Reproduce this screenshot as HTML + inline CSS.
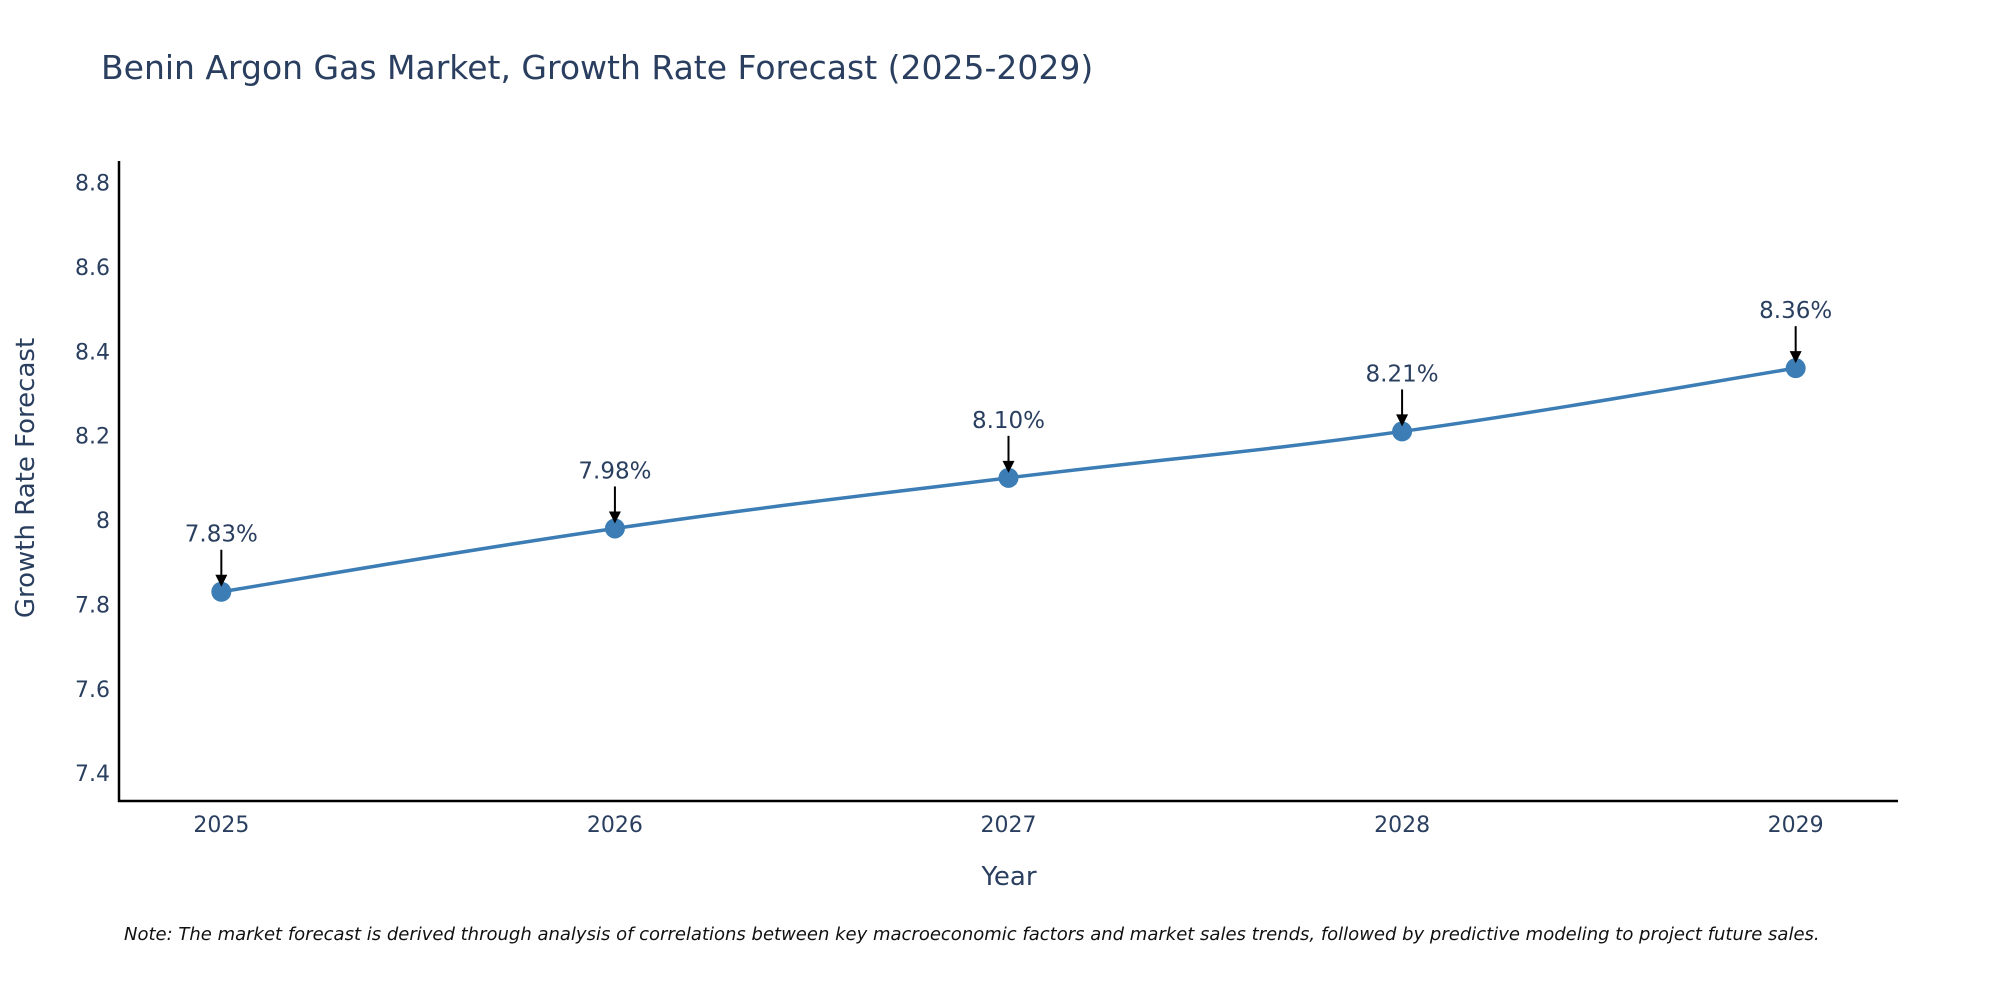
<!DOCTYPE html>
<html><head><meta charset="utf-8"><style>
body{margin:0;background:#fff;}
svg text{font-family:"DejaVu Sans","Liberation Sans",sans-serif;fill:#2a3f5f;}
</style></head><body>
<svg id="chart" width="2000" height="1000" xmlns="http://www.w3.org/2000/svg">
<text x="101" y="79" font-size="33">Benin Argon Gas Market, Growth Rate Forecast (2025-2029)</text>
<g id="yticks"></g>
<g id="xticks"></g>
<line x1="119" y1="161" x2="119" y2="802" stroke="#000" stroke-width="2.5"/>
<line x1="118" y1="801" x2="1898" y2="801" stroke="#000" stroke-width="2.5"/>
<path id="series-line" fill="none" stroke="#3b7db4" stroke-width="3.5"/>
<g id="points"></g>
<g id="annos"></g>
<text transform="translate(34,478) rotate(-90)" text-anchor="middle" font-size="26">Growth Rate Forecast</text>
<text x="1009" y="885" text-anchor="middle" font-size="26">Year</text>
<text x="124" y="940" font-size="18" font-style="italic" style="fill:#111">Note: The market forecast is derived through analysis of correlations between key macroeconomic factors and market sales trends, followed by predictive modeling to project future sales.</text>
</svg>
<script>
const years = [2025, 2026, 2027, 2028, 2029];
const values = [7.83, 7.98, 8.10, 8.21, 8.36];
const labels = ["7.83%", "7.98%", "8.10%", "8.21%", "8.36%"];
const yTickVals = [7.4, 7.6, 7.8, 8, 8.2, 8.4, 8.6, 8.8];
const yTickLabels = ["7.4", "7.6", "7.8", "8", "8.2", "8.4", "8.6", "8.8"];
const NS = "http://www.w3.org/2000/svg";
const xMin = 2024.74, xMax = 2029.26;
const yMin = 7.334, yMax = 8.851;
function xs(v){ return 119 + (v - xMin) / (xMax - xMin) * (1898 - 119); }
function ys(v){ return 801 - (v - yMin) / (yMax - yMin) * (801 - 161); }
function mk(tag, attrs, parent){ const e = document.createElementNS(NS, tag); for (const k in attrs) e.setAttribute(k, attrs[k]); parent.appendChild(e); return e; }
const yt = document.getElementById('yticks');
yTickVals.forEach((v, i) => {
  const t = mk('text', {x: 110, y: ys(v) + 8, 'text-anchor': 'end', 'font-size': 22}, yt);
  
  
  t.textContent = yTickLabels[i];
});
const xt = document.getElementById('xticks');
years.forEach(y => {
  const t = mk('text', {x: xs(y), y: 832, 'text-anchor': 'middle', 'font-size': 22}, xt);
  
  
  t.textContent = y;
});
const pts = years.map((y, i) => [xs(y), ys(values[i])]);
let d = 'M' + pts[0][0] + ',' + pts[0][1];
for (let i = 0; i < pts.length - 1; i++) {
  const p0 = pts[Math.max(0, i - 1)], p1 = pts[i], p2 = pts[i + 1], p3 = pts[Math.min(pts.length - 1, i + 2)];
  const s = 0.2;
  d += ' C' + (p1[0] + (p2[0] - p0[0]) * s) + ',' + (p1[1] + (p2[1] - p0[1]) * s) + ' ' + (p2[0] - (p3[0] - p1[0]) * s) + ',' + (p2[1] - (p3[1] - p1[1]) * s) + ' ' + p2[0] + ',' + p2[1];
}
document.getElementById('series-line').setAttribute('d', d);
const pg = document.getElementById('points');
const ag = document.getElementById('annos');
pts.forEach((p, i) => {
  const c = mk('circle', {cx: p[0], cy: p[1], r: 10, fill: '#3b7db4'}, pg);
  
  
  const l = mk('line', {x1: p[0], y1: p[1] - 42, x2: p[0], y2: p[1] - 16, stroke: '#000', 'stroke-width': 2}, ag);
  
  
  const h = mk('polygon', {points: (p[0] - 6) + ',' + (p[1] - 17) + ' ' + (p[0] + 6) + ',' + (p[1] - 17) + ' ' + p[0] + ',' + (p[1] - 5), fill: '#000'}, ag);
  
  
  const t = mk('text', {x: p[0], y: p[1] - 50, 'text-anchor': 'middle', 'font-size': 23}, ag);
  
  
  t.textContent = labels[i];
});
</script>
</body></html>
